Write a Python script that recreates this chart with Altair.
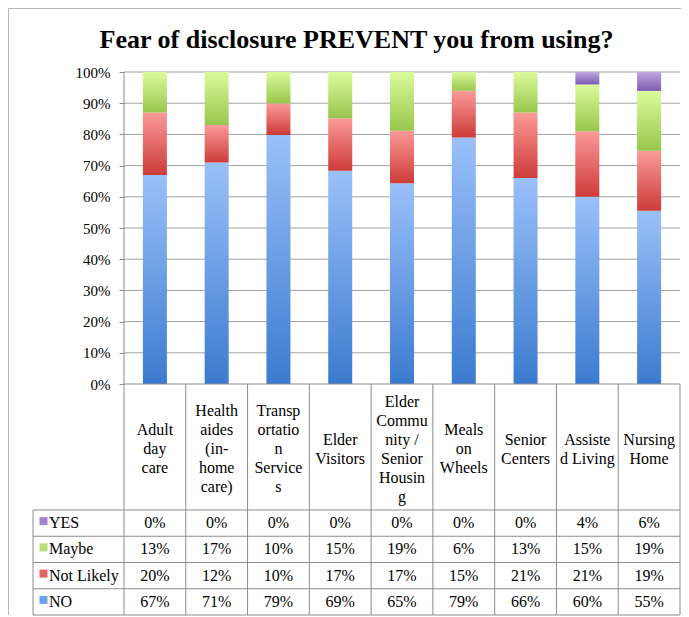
import altair as alt
import pandas as pd

# ---------------- data ----------------
categories = ["Adult day care", "Health aides (in-home care)", "Transportation Services",
              "Elder Visitors", "Elder Community / Senior Housing", "Meals on Wheels",
              "Senior Centers", "Assisted Living", "Nursing Home"]
category_labels = ["Adult\nday\ncare", "Health\naides\n(in-\nhome\ncare)",
                   "Transp\nortatio\nn\nService\ns", "Elder\nVisitors",
                   "Elder\nCommu\nnity /\nSenior\nHousin\ng", "Meals\non\nWheels",
                   "Senior\nCenters", "Assiste\nd Living", "Nursing\nHome"]
series = ["YES", "Maybe", "Not Likely", "NO"]          # table row order
yes = [0, 0, 0, 0, 0, 0, 0, 4, 6]
maybe = [13, 17, 10, 15, 19, 6, 13, 15, 19]
not_likely = [20, 12, 10, 17, 17, 15, 21, 21, 19]
no = [67, 71, 79, 69, 65, 79, 66, 60, 55]
tick_values = [0.0, 0.1, 0.2, 0.3, 0.4, 0.5, 0.6, 0.7, 0.8, 0.9, 1.0]
title_text = "Fear of disclosure PREVENT you from using?"

# ---------------- styles ----------------
FONT = "Liberation Serif"
gradients = {"NO": ("#9AC0FA", "#3B7BCF"),
             "Not Likely": ("#FB9A98", "#CD3B39"),
             "Maybe": ("#DBFB9C", "#98C64C"),
             "YES": ("#BEA6E2", "#7D5CB1")}
swatch = {"NO": "#6FA0E6", "Not Likely": "#E46464", "Maybe": "#B7DD76", "YES": "#9F86CB"}
GRID = "#a0a0a0"
LINE = "#8c8c8c"
LINE_H = 19

# ---------------- layout (page pixels) ----------------
AXIS_X, RIGHT_X, TABLE_X = 124, 680, 33
TOP_Y, ZERO_Y, HEAD_Y, BOTTOM_Y = 72, 384, 510, 615
N = len(categories)
STEP = (RIGHT_X - AXIS_X) / N
UNIT_Y = ZERO_Y - TOP_Y
XMIN = -(AXIS_X - TABLE_X) / STEP
YMIN = -(BOTTOM_Y - ZERO_Y) / UNIT_Y
HEADER_H = (HEAD_Y - ZERO_Y) / UNIT_Y
ROW_H = (BOTTOM_Y - HEAD_Y) / len(series) / UNIT_Y
BAR_W = 24 / STEP
W = RIGHT_X - TABLE_X
H = BOTTOM_Y - TOP_Y
PAD_L, PAD_T, PAD_R, PAD_B = TABLE_X - 8, TOP_Y - 8, 1, 1

# ---------------- frames ----------------
vals = {"YES": yes, "Maybe": maybe, "Not Likely": not_likely, "NO": no}
stack_order = {"NO": 0, "Not Likely": 1, "Maybe": 2, "YES": 3}
rows = []
for r, s in enumerate(series):
    for i, c in enumerate(categories):
        rows.append({"cat": c, "idx": i, "series": s, "row": r,
                     "order": stack_order[s], "value": vals[s][i]})
df = pd.DataFrame(rows)

df_cats = pd.DataFrame({"idx": list(range(N)), "label": category_labels,
                        "nl": [lab.count("\n") + 1 for lab in category_labels]})
df_leg = pd.DataFrame({"series": series, "row": list(range(len(series)))})
df_grid = pd.DataFrame({"t": tick_values[1:]})

v_lines = [{"x": 0, "y": 1, "y2": YMIN}]
v_lines += [{"x": k, "y": 0, "y2": YMIN} for k in range(1, N + 1)]
v_lines += [{"x": XMIN, "y": -HEADER_H, "y2": YMIN}]
df_v = pd.DataFrame(v_lines)
h_lines = [{"y": 0, "x": 0, "x2": N}]
h_lines += [{"y": -HEADER_H - k * ROW_H, "x": XMIN, "x2": N} for k in range(len(series) + 1)]
df_h = pd.DataFrame(h_lines)

# outer frame of the chart object
BX = XMIN - (PAD_L - 0.5) / STEP
BY = 1 + (PAD_T - 0.5) / UNIT_Y
df_border_h = pd.DataFrame({"y": [BY], "x": [BX], "x2": [N + (PAD_R) / STEP]})
df_border_v = pd.DataFrame({"x": [BX], "y": [BY], "y2": [YMIN]})

# ---------------- scales ----------------
xs = alt.Scale(domain=[XMIN, N], nice=False, zero=False)
ys = alt.Scale(domain=[YMIN, 1], nice=False, zero=False)
yaxis = alt.Axis(values=tick_values, format=".0%", offset=-(AXIS_X - TABLE_X),
                 domain=False, grid=False, ticks=True, tickSize=5, tickColor=LINE,
                 labelFont=FONT, labelFontSize=15, labelColor="black",
                 labelPadding=9, title=None)


def X(f):
    return alt.X(f, scale=xs, axis=None)


def Y(f):
    return alt.Y(f, scale=ys, axis=yaxis)


layers = []

# gridlines
layers.append(alt.Chart(df_grid).mark_rule(color=GRID, strokeWidth=1).encode(
    y=Y("t:Q"), x=alt.X("a:Q", scale=xs, axis=None), x2="b:Q"
).transform_calculate(a="0", b=str(N)))

# stacked bars with gradients
base = alt.Chart(df).transform_stack(
    stack="value", groupby=["cat"], as_=["v0", "v1"],
    sort=[alt.SortField("order", order="ascending")], offset="normalize"
).transform_calculate(
    xa=f"datum.idx + 0.5 - {BAR_W / 2}", xb=f"datum.idx + 0.5 + {BAR_W / 2}"
)
for s in ["NO", "Not Likely", "Maybe", "YES"]:
    top, bottom = gradients[s]
    grad = alt.Gradient(gradient="linear", x1=0, x2=0, y1=0, y2=1,
                        stops=[alt.GradientStop(color=top, offset=0),
                               alt.GradientStop(color=bottom, offset=1)])
    layers.append(base.transform_filter(alt.datum.series == s).mark_rect(color=grad).encode(
        x=X("xa:Q"), x2="xb:Q", y=Y("v0:Q"), y2="v1:Q"))

# table lines
layers.append(alt.Chart(df_v).mark_rule(color=LINE, strokeWidth=1).encode(
    x=X("x:Q"), y=Y("y:Q"), y2="y2:Q"))
layers.append(alt.Chart(df_h).mark_rule(color=LINE, strokeWidth=1).encode(
    y=Y("y:Q"), x=X("x:Q"), x2="x2:Q"))
layers.append(alt.Chart(df_border_h).mark_rule(color="#b5b5b5", strokeWidth=1).encode(
    y=Y("y:Q"), x=X("x:Q"), x2="x2:Q"))
layers.append(alt.Chart(df_border_v).mark_rule(color="#b5b5b5", strokeWidth=1).encode(
    x=X("x:Q"), y=Y("y:Q"), y2="y2:Q"))

# category header labels (multi-line, block centred in the header row)
layers.append(alt.Chart(df_cats).mark_text(
    font=FONT, fontSize=16, lineBreak="\n", lineHeight=LINE_H, align="center",
    baseline="middle", color="black"
).encode(x=X("xc:Q"), y=Y("yc:Q"), text="label:N").transform_calculate(
    xc="datum.idx + 0.5",
    yc=f"-{HEADER_H / 2} + (datum.nl - 1) / 2 * {LINE_H / UNIT_Y} - {2 / UNIT_Y}"))

# value cells
layers.append(alt.Chart(df).mark_text(
    font=FONT, fontSize=16, align="center", baseline="middle", color="black"
).encode(x=X("xc:Q"), y=Y("yc:Q"), text="label:N").transform_calculate(
    xc="datum.idx + 0.5", yc=f"-{HEADER_H} - (datum.row + 0.5) * {ROW_H}",
    label="datum.value + '%'"))

# legend column: swatches + labels
layers.append(alt.Chart(df_leg).mark_square(size=64, opacity=1).encode(
    x=X("xs:Q"), y=Y("ys:Q"),
    color=alt.Color("series:N", scale=alt.Scale(domain=series,
                                                 range=[swatch[s] for s in series]),
                    legend=None)
).transform_calculate(xs=f"{XMIN + 10.5 / STEP}",
                      ys=f"-{HEADER_H} - (datum.row + 0.5) * {ROW_H} + {2 / UNIT_Y}"))
layers.append(alt.Chart(df_leg).mark_text(
    font=FONT, fontSize=16, align="left", baseline="middle", color="black"
).encode(x=X("xt:Q"), y=Y("yt:Q"), text="series:N").transform_calculate(
    xt=f"{XMIN + 16 / STEP}", yt=f"-{HEADER_H} - (datum.row + 0.5) * {ROW_H}"))

chart = alt.layer(*layers).properties(
    width=W, height=H,
    padding={"left": PAD_L, "top": PAD_T, "right": PAD_R, "bottom": PAD_B},
    autosize=alt.AutoSizeParams(type="none"),
    title=alt.TitleParams(title_text, font=FONT, fontSize=26, fontWeight="bold",
                          anchor="middle", frame="group", baseline="alphabetic",
                          offset=-66, color="black"),
    background="white",
).configure_view(stroke=None)

chart.save("out.html", embed_options={"renderer": "svg", "actions": False})
